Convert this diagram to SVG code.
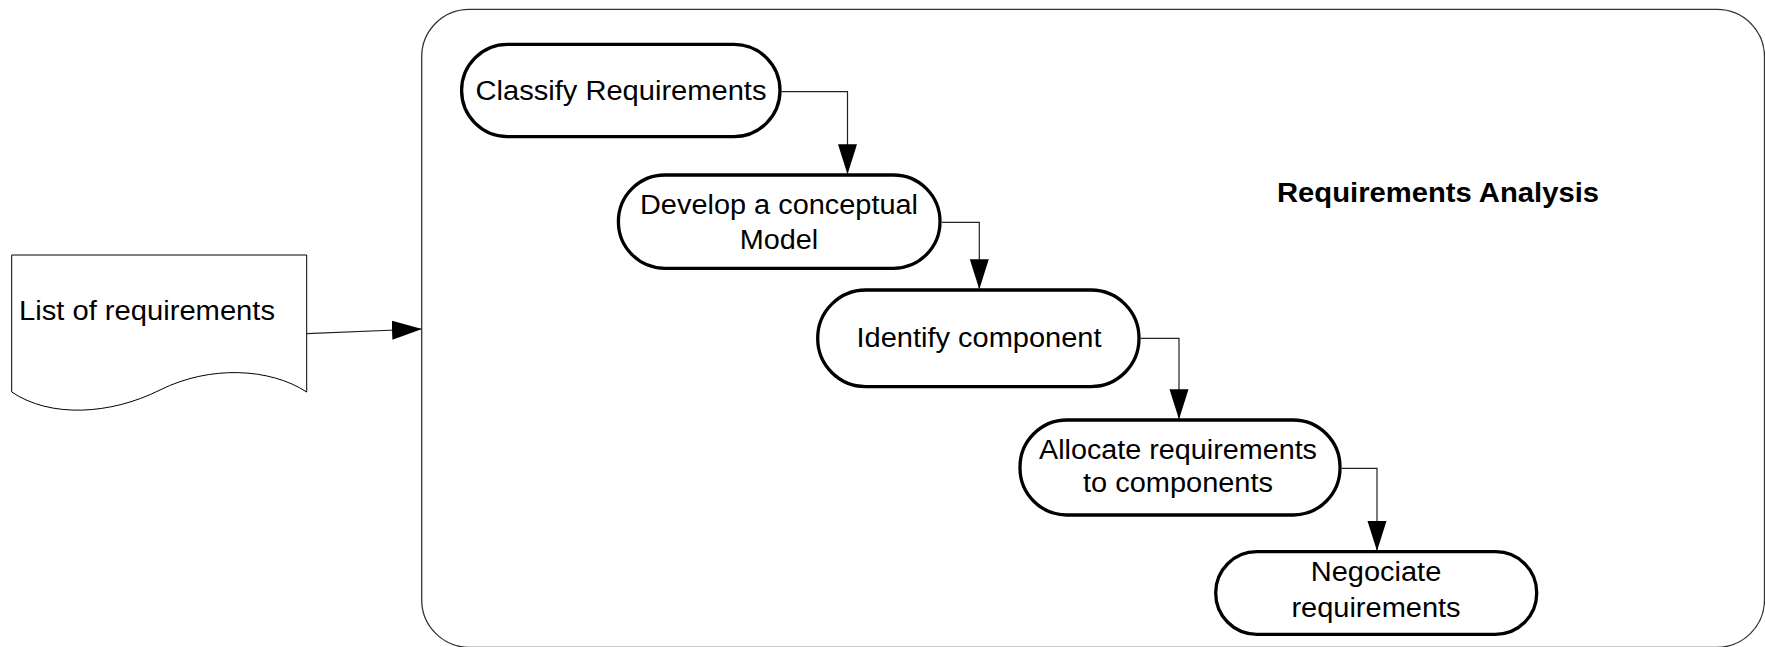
<svg xmlns="http://www.w3.org/2000/svg" width="1765" height="647" viewBox="0 0 1765 647">
<style>
.box{fill:#fff;stroke:#000;stroke-width:3.3}
.lbl{font-family:"Liberation Sans",Arial,sans-serif;font-size:27px;fill:#000;text-anchor:middle}
.title{font-family:"Liberation Sans",Arial,sans-serif;font-size:27px;font-weight:bold;fill:#000;text-anchor:middle}
.conn{fill:none;stroke:#222;stroke-width:1.2}
</style>
<defs>
<marker id="arr" markerUnits="userSpaceOnUse" markerWidth="30" markerHeight="20" refX="29" refY="10" orient="auto">
<path d="M0,0.5 L30,10 L0,19.5 Z" fill="#000"/>
</marker>
</defs>
<rect width="1765" height="647" fill="#fff"/>
<g id="container">
<rect x="421.7" y="9.3" width="1342.8" height="638" rx="47.5" ry="47.5" fill="#fff" stroke="#333" stroke-width="1.3"/>
<text class="title" x="1438" y="202" textLength="322" lengthAdjust="spacingAndGlyphs">Requirements Analysis</text>
</g>
<g id="doc">
<path d="M11.7,255 H306.7 V392 C270,368 210,365 160,390 C110,415 50,418 11.7,392 Z" fill="#fff" stroke="#000" stroke-width="1"/>
<text class="lbl" x="19" y="320" style="text-anchor:start" textLength="256" lengthAdjust="spacingAndGlyphs">List of requirements</text>
</g>
<g id="n1">
<rect class="box" x="461.6" y="44.4" width="318.4" height="92.2" rx="46" ry="46"/>
<text class="lbl" x="621" y="100" textLength="291" lengthAdjust="spacingAndGlyphs">Classify Requirements</text>
</g>
<g id="n2">
<rect class="box" x="618.4" y="175" width="321.6" height="93.3" rx="46.5" ry="46.5"/>
<text class="lbl" x="779" y="213.5" textLength="278" lengthAdjust="spacingAndGlyphs">Develop a conceptual</text>
<text class="lbl" x="779" y="249.3" textLength="78.5" lengthAdjust="spacingAndGlyphs">Model</text>
</g>
<g id="n3">
<rect class="box" x="817.7" y="290" width="321.3" height="96.6" rx="48" ry="48"/>
<text class="lbl" x="979" y="346.7" textLength="245" lengthAdjust="spacingAndGlyphs">Identify component</text>
</g>
<g id="n4">
<rect class="box" x="1020" y="420" width="320" height="95" rx="47" ry="47"/>
<text class="lbl" x="1178" y="459" textLength="278" lengthAdjust="spacingAndGlyphs">Allocate requirements</text>
<text class="lbl" x="1178" y="491.7" textLength="190" lengthAdjust="spacingAndGlyphs">to components</text>
</g>
<g id="n5">
<rect class="box" x="1215.7" y="551.7" width="321" height="82.6" rx="41" ry="41"/>
<text class="lbl" x="1376" y="581" textLength="130.6" lengthAdjust="spacingAndGlyphs">Negociate</text>
<text class="lbl" x="1376" y="616.5" textLength="169.2" lengthAdjust="spacingAndGlyphs">requirements</text>
</g>
<g id="connectors">
<path class="conn" d="M306.7,333.7 L421,329" marker-end="url(#arr)"/>
<path class="conn" d="M781.7,91.7 H847.5 V173.3" marker-end="url(#arr)"/>
<path class="conn" d="M941.7,222.3 H979.3 V288.3" marker-end="url(#arr)"/>
<path class="conn" d="M1140.7,338.3 H1179 V418.3" marker-end="url(#arr)"/>
<path class="conn" d="M1341.7,468.3 H1377 V550" marker-end="url(#arr)"/>
</g>
</svg>
